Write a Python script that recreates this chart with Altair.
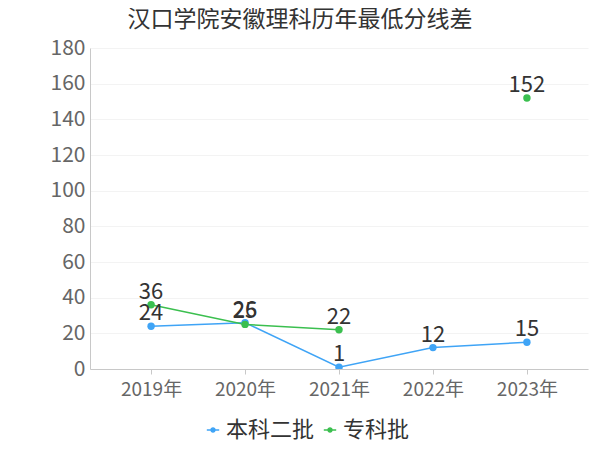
import altair as alt
import pandas as pd

years = ["2019年", "2020年", "2021年", "2022年", "2023年"]
series_names = ["本科二批", "专科批"]
benke = [24, 26, 1, 12, 15]
zhuanke = [36, 25, 22, None, 152]
zhuanke_seg = ["a", "a", "a", None, "b"]

rows = []
for i, y in enumerate(years):
    rows.append({"year": y, "series": series_names[0], "value": benke[i], "seg": "a"})
    if zhuanke[i] is not None:
        rows.append({"year": y, "series": series_names[1], "value": zhuanke[i], "seg": zhuanke_seg[i]})
df = pd.DataFrame(rows)

FONT = "Noto Sans CJK SC"
color_scale = alt.Scale(domain=series_names, range=["#3fa4f6", "#3bbf4f"])

x_enc = alt.X("year:N", sort=years, scale=alt.Scale(type="point", padding=0.65),
              axis=alt.Axis(title=None, labelAngle=0, labelFontSize=19, labelColor="#666",
                            labelFont=FONT, domainColor="#c8c8c8", tickColor="#c8c8c8",
                            tickSize=5, gridColor="#f3f3f3", labelPadding=6))
y_enc = alt.Y("value:Q", scale=alt.Scale(domain=[0, 180]),
              axis=alt.Axis(title=None, values=list(range(0, 181, 20)), labelFontSize=21,
                            labelColor="#666", labelFont=FONT, domainColor="#c8c8c8",
                            ticks=False, gridColor="#f3f3f3", labelPadding=5))

sym = "M-1.6,0H1.6M-0.5,0A0.5,0.5 0 1,1 0.5,0A0.5,0.5 0 1,1 -0.5,0Z"
legend = alt.Legend(title=None, orient="none", legendX=112, legendY=371,
                    direction="horizontal",
                    labelFontSize=22, labelColor="#333", labelFont=FONT,
                    symbolType=sym, symbolSize=60, symbolStrokeWidth=1.5,
                    symbolOpacity=1, columnPadding=4, labelOffset=2)
color_enc = alt.Color("series:N", scale=color_scale, sort=series_names, legend=legend)

base = alt.Chart(df)

lines = base.mark_line(strokeWidth=1.5).encode(
    x=x_enc, y=y_enc, color=color_enc, detail="seg:N",
)

points = base.mark_point(filled=True, size=55, opacity=1, clip=True).encode(
    x=x_enc, y=y_enc, color=color_enc,
)

labels = base.mark_text(dy=-13, fontSize=22, color="#333", font=FONT).encode(
    x=x_enc, y=y_enc, text="value:Q"
)

chart = (lines + points + labels).properties(
    width=498, height=321,
    title=alt.TitleParams("汉口学院安徽理科历年最低分线差", fontSize=23, color="#333",
                          font=FONT, fontWeight="normal", anchor="middle", dx=-39, offset=5),
    autosize=alt.AutoSizeParams(type="none"),
    padding={"left": 82, "top": 40, "right": 2, "bottom": 80},
).configure_view(stroke=None)

chart.save("out.html", embed_options={"renderer": "svg", "actions": False})
